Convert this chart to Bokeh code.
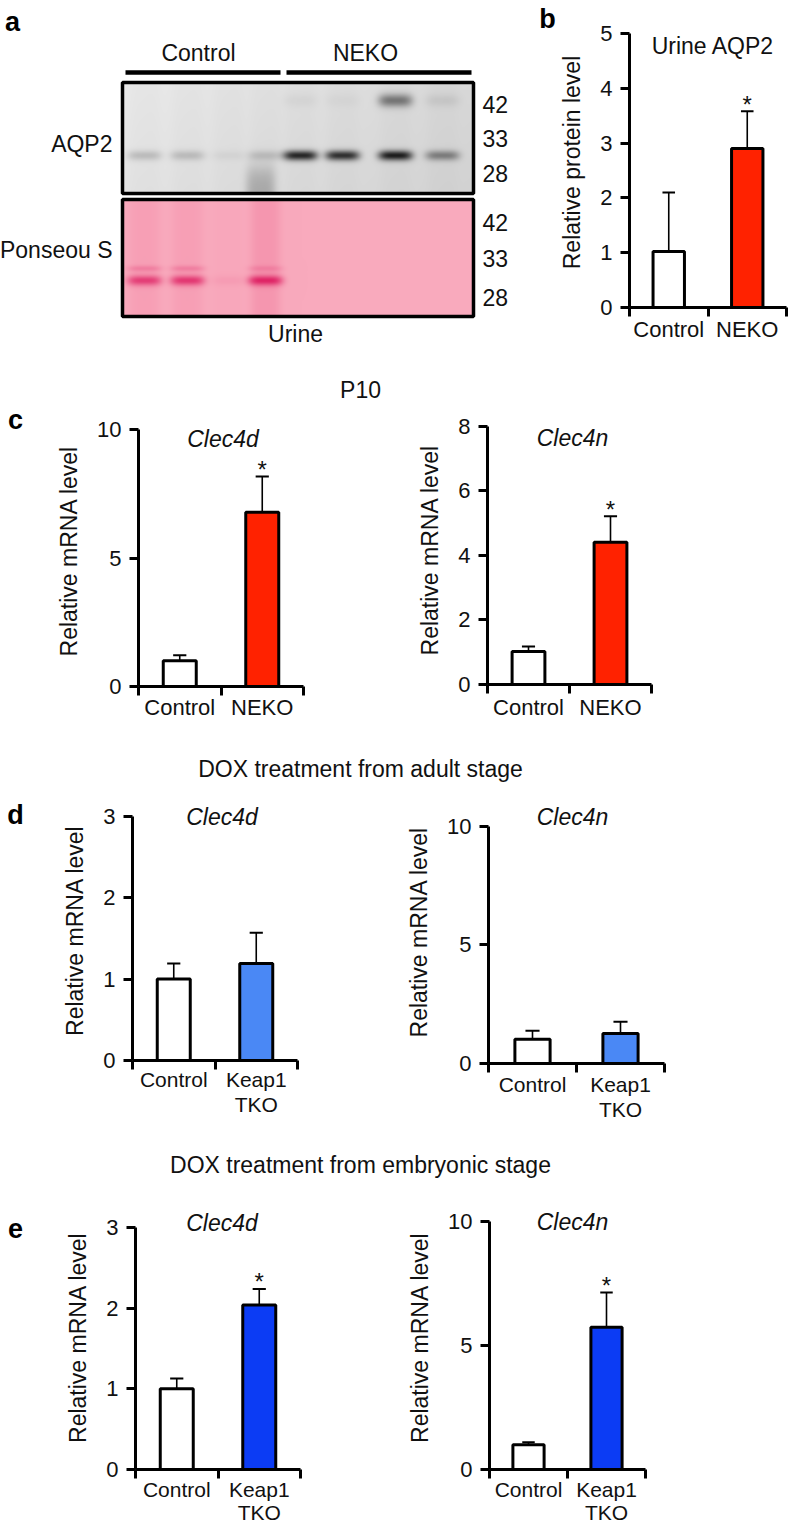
import numpy as np
from bokeh.plotting import figure
from bokeh.layouts import column, row
from bokeh.models import Range1d, FixedTicker, LinearAxis
from bokeh.embed import file_html
from bokeh.resources import INLINE
from bokeh.core.properties import value

FONT = "Liberation Sans"

# ---------------- data ----------------
ctrl_neko = ["Control", "NEKO"]
ctrl_keap = ["Control", "Keap1\nTKO"]

b_mean = [1.02, 2.90]
b_sem = [1.08, 0.68]
b_star = [False, True]

p10_c4d_mean = [1.00, 6.78]
p10_c4d_sem = [0.22, 1.39]
p10_c4n_mean = [1.02, 4.41]
p10_c4n_sem = [0.16, 0.81]
p10_star = [False, True]

adult_c4d_mean = [1.00, 1.19]
adult_c4d_sem = [0.19, 0.38]
adult_c4n_mean = [1.02, 1.27]
adult_c4n_sem = [0.36, 0.49]
adult_star = [False, False]

emb_c4d_mean = [1.00, 2.04]
emb_c4d_sem = [0.13, 0.20]
emb_c4n_mean = [1.00, 5.73]
emb_c4n_sem = [0.10, 1.41]
emb_star = [False, True]

ticks_b = [0, 1, 2, 3, 4, 5]
ticks_0_10 = [0, 5, 10]
ticks_0_8 = [0, 2, 4, 6, 8]
ticks_0_3 = [0, 1, 2, 3]

# western blot: band darkness per lane (lanes 1-4 Control, 5-8 NEKO)
aqp2_band = [0.18, 0.18, 0.05, 0.15, 0.90, 0.85, 0.95, 0.45]
aqp2_upper_band = [0.0, 0.0, 0.0, 0.0, 0.04, 0.03, 0.50, 0.08]
ponceau_band = [0.75, 0.80, 0.08, 0.95, 0.0, 0.0, 0.0, 0.0]
ponceau_upper_band = [0.25, 0.25, 0.0, 0.20, 0.0, 0.0, 0.0, 0.0]
ponceau_streak = [0.08, 0.08, 0.02, 0.15, 0.0, 0.0, 0.0, 0.0]
mw_markers = ["42", "33", "28"]

# ---------------- styles ----------------
RED = "#ff2200"
BLUE_D = "#4a88f5"
BLUE_E = "#0c3cf4"
INK = "#111111"
lane_x = [144, 187, 228, 265, 300, 342, 395, 442]


def blank(width, height, xr, yr, **kw):
    return figure(width=width, height=height, x_range=Range1d(*xr), y_range=Range1d(*yr),
                  output_backend="svg", toolbar_location=None, x_axis_type=None,
                  y_axis_type=None, min_border=0, outline_line_color=None, title=None, **kw)


def blot_figure():
    p = blank(556, 350, (0, 556), (0, 350))
    Y = lambda ry: 350 - ry

    def make_img(top, bottom, bg_fn, dark_rgb, bands):
        w = 473 - 122
        h = bottom - top
        xs = np.arange(w) + 122 + 0.5
        ys = np.arange(h) + top + 0.5
        X, YY = np.meshgrid(xs, ys)
        dark = np.zeros_like(X)
        for li, cx in enumerate(lane_x):
            xprof = np.exp(-((X - cx) / 17.0) ** 4)
            for (vals, cy, sig) in bands:
                if vals[li] > 0:
                    dark += vals[li] * xprof * np.exp(-((YY - cy) / sig) ** 2)
        dark = np.clip(dark, 0, 1)
        bg = bg_fn(X, YY)
        rgb = bg * (1 - dark[..., None]) + np.array(dark_rgb)[None, None, :] * dark[..., None]
        img = np.empty((h, w), dtype=np.uint32)
        view = img.view(dtype=np.uint8).reshape((h, w, 4))
        view[..., :3] = np.clip(rgb, 0, 255).astype(np.uint8)
        view[..., 3] = 255
        return img[::-1]

    def gray_bg(X, YY):
        g = 234 - 18 * (X - 122) / 351 - 6 * (YY - 82) / 111
        for cx in lane_x:
            g = g - 3 * np.exp(-((X - cx) / 15.0) ** 4)
        smear = 50 * np.exp(-((X - 260) / 15.0) ** 4) / (1 + np.exp(-(YY - 168) / 6.0))
        g = g - smear
        return np.stack([g, g, g], axis=-1)

    def pink_bg(X, YY):
        r = 249 + 0 * X
        gg = 170 + 0 * X
        b = 189 + 0 * X
        for cx, st in zip(lane_x, ponceau_streak):
            prof = st * np.exp(-((X - cx) / 15.0) ** 4)
            r = r - 25 * prof
            gg = gg - 130 * prof
            b = b - 90 * prof
        return np.stack([r, gg, b], axis=-1)

    img1 = make_img(82, 193, gray_bg, (18, 18, 18),
                    [(aqp2_band, 155, 5.0), (aqp2_upper_band, 100, 6.5)])
    img2 = make_img(199, 316, pink_bg, (222, 30, 98),
                    [(ponceau_band, 280, 5.0), (ponceau_upper_band, 268, 3.0)])
    p.image_rgba(image=[img1], x=122, y=Y(193), dw=351, dh=111)
    p.image_rgba(image=[img2], x=122, y=Y(316), dw=351, dh=117)
    p.quad(left=[122, 122], right=[473, 473], top=[Y(82), Y(199)], bottom=[Y(193), Y(316)],
           fill_color=None, line_color="black", line_width=3.5)
    p.segment(x0=[125, 286], y0=[Y(72)] * 2, x1=[280, 471], y1=[Y(72)] * 2,
              line_color="black", line_width=4.5)
    tk = dict(text_font=value(FONT), text_font_size="23px", text_color=INK)
    p.text(x=[198, 365], y=[Y(52)] * 2, text=ctrl_neko, text_align="center",
           text_baseline="middle", **tk)
    p.text(x=[112, 112], y=[Y(143), Y(249)], text=["AQP2", "Ponseou S"], text_align="right",
           text_baseline="middle", **tk)
    p.text(x=[482] * 6, y=[Y(v) for v in (104, 138, 173, 222, 258, 297)],
           text=mw_markers * 2, text_align="left", text_baseline="middle", **tk)
    p.text(x=[295], y=[Y(333)], text=["Urine"], text_align="center", text_baseline="middle", **tk)
    lk = dict(text_font=value(FONT), text_font_size="27px", text_font_style="bold",
              text_color="black", text_align="center", text_baseline="middle")
    p.text(x=[12, 547], y=[Y(21), Y(18)], text=["a", "b"], **lk)
    return p


def header(h, bottom_ref, txt, ty):
    p = blank(788, h, (0, 788), (0, h))
    p.text(x=[360], y=[bottom_ref - ty], text=[txt], text_align="center", text_baseline="middle",
           text_font=value(FONT), text_font_size="23px", text_color=INK)
    return p


def letter_fig(h, bottom_ref, txt, ty):
    p = blank(30, h, (0, 30), (0, h))
    p.text(x=[15], y=[bottom_ref - ty], text=[txt], text_align="center", text_baseline="middle",
           text_font=value(FONT), text_font_size="27px", text_font_style="bold",
           text_color="black")
    return p


def bar_chart(geom, ylabel, yticks, means, sems, colors, stars, cats, title, title_off,
              cat_size, cat_standoff, cat_lh=1.0, title_italic=True):
    w, h, mbl, mbr, mbt, mbb, yend = geom
    p = figure(width=w, height=h, x_range=Range1d(0.5, 2.5), y_range=Range1d(0, yend),
               output_backend="svg", toolbar_location=None, x_axis_type=None, y_axis_type=None,
               min_border_left=mbl, min_border_right=mbr, min_border_top=mbt,
               min_border_bottom=mbb, outline_line_color=None, title=None)
    ya = LinearAxis(ticker=FixedTicker(ticks=yticks), bounds=(0, yticks[-1]), axis_label=ylabel)
    ya.axis_line_width = 3
    ya.major_tick_line_width = 3
    ya.major_tick_out = 9
    ya.major_tick_in = 0
    ya.minor_tick_line_color = None
    ya.major_label_standoff = 8
    ya.major_label_text_font = FONT
    ya.major_label_text_font_size = "22px"
    ya.major_label_text_color = INK
    ya.axis_label_text_font = FONT
    ya.axis_label_text_font_size = "23px"
    ya.axis_label_text_font_style = "normal"
    ya.axis_label_text_color = INK
    ya.axis_label_standoff = 12
    p.add_layout(ya, "left")

    xa = LinearAxis(ticker=FixedTicker(ticks=[1, 2], minor_ticks=[0.5, 1.5, 2.5]))
    xa.axis_line_width = 3
    xa.major_tick_line_color = None
    xa.major_tick_out = 0
    xa.major_tick_in = 0
    xa.minor_tick_line_color = "black"
    xa.minor_tick_line_width = 3
    xa.minor_tick_out = 9
    xa.minor_tick_in = 0
    xa.major_label_standoff = cat_standoff
    xa.major_label_text_font = FONT
    xa.major_label_text_font_size = cat_size
    xa.major_label_text_color = INK
    xa.major_label_text_line_height = cat_lh
    xa.major_label_overrides = {1: cats[0], 2: cats[1], "1": cats[0], "2": cats[1]}
    p.add_layout(xa, "below")

    xs = np.array([1.0, 2.0])
    m = np.array(means)
    s = np.array(sems)
    p.segment(x0=xs, y0=m, x1=xs, y1=m + s, line_color="black", line_width=1.6)
    p.segment(x0=xs - 0.08, y0=m + s, x1=xs + 0.08, y1=m + s, line_color="black", line_width=2)
    p.vbar(x=xs, top=m, bottom=0, width=0.4, fill_color=colors, line_color="black", line_width=3)
    sx = [x for x, st in zip(xs, stars) if st]
    sy = [a + b for a, b, st in zip(means, sems, stars) if st]
    if sx:
        p.text(x=sx, y=sy, text=["*"] * len(sx), text_align="center", text_baseline="alphabetic",
               y_offset=-7, text_font=value(FONT), text_font_size="24px", text_color=INK)
    p.text(x=[1.5], y=[yticks[-1]], text=[title], x_offset=title_off[0], y_offset=title_off[1],
           text_align="center", text_baseline="middle", text_font=value(FONT),
           text_font_size="23px", text_color=INK,
           text_font_style="italic" if title_italic else "normal")
    return p


def solo(p):
    return column(p)


blot = blot_figure()
pb = bar_chart((232, 350, 69, 2, 17, 43, 5.292), "Relative protein level", ticks_b, b_mean, b_sem,
               ["white", RED], b_star, ctrl_neko, "Urine AQP2", (5, 12), "22px", 0,
               title_italic=False)
rowA = row(solo(blot), solo(pb))

h1 = header(55, 405, "P10", 389)

lc = letter_fig(330, 735, "c", 419)
pc1 = bar_chart((368, 330, 108, 95, 10, 49, 10.545), "Relative mRNA level", ticks_0_10,
                p10_c4d_mean, p10_c4d_sem, ["white", RED], p10_star, ctrl_neko, "Clec4d",
                (2, 9), "22px", -1)
pc2 = bar_chart((390, 330, 89, 137, 10, 51, 8.341), "Relative mRNA level", ticks_0_8,
                p10_c4n_mean, p10_c4n_sem, ["white", RED], p10_star, ctrl_neko, "Clec4n",
                (3, 12), "22px", 1)
rowC = row(solo(lc), solo(pc1), solo(pc2))

h2 = header(55, 790, "DOX treatment from adult stage", 768)

ld = letter_fig(345, 1135, "d", 814)
pd1 = bar_chart((368, 345, 102, 101, 10, 75, 3.193), "Relative mRNA level", ticks_0_3,
                adult_c4d_mean, adult_c4d_sem, ["white", BLUE_D], adult_star, ctrl_keap, "Clec4d",
                (7, 1), "21px", -2, cat_lh=1.1)
pd2 = bar_chart((390, 345, 90, 124, 10, 72, 11.097), "Relative mRNA level", ticks_0_10,
                adult_c4n_mean, adult_c4n_sem, ["white", BLUE_D], adult_star, ctrl_keap, "Clec4n",
                (-4, -9), "21px", 0, cat_lh=1.1)
rowD = row(solo(ld), solo(pd1), solo(pd2))

h3 = header(55, 1190, "DOX treatment from embryonic stage", 1164)

le = letter_fig(336, 1526, "e", 1228)
pe1 = bar_chart((368, 336, 105, 98, 15, 55, 3.274), "Relative mRNA level", ticks_0_3,
                emb_c4d_mean, emb_c4d_sem, ["white", BLUE_E], emb_star, ctrl_keap, "Clec4d",
                (4, -5), "21px", -1, cat_lh=1.0)
pe2 = bar_chart((390, 336, 91, 143, 15, 56, 10.643), "Relative mRNA level", ticks_0_10,
                emb_c4n_mean, emb_c4n_sem, ["white", BLUE_E], emb_star, ctrl_keap, "Clec4n",
                (5, 1), "21px", -1, cat_lh=1.0)
rowE = row(solo(le), solo(pe1), solo(pe2))

layout = column(rowA, h1, rowC, h2, rowD, h3, rowE)

open("out.html", "w").write(file_html(layout, INLINE))
